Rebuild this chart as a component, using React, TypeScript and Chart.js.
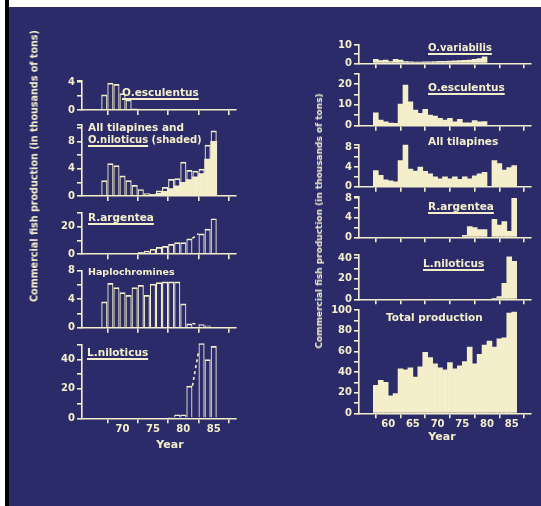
import React, { useEffect, useRef } from "react";
import { Chart, registerables } from "chart.js";

Chart.register(...registerables);

const PAGE_W = 541;
const PAGE_H = 506;
const CREAM = "#f4eecb";
const NAVY = "#2a2b68";
const FONT = "'DejaVu Sans', 'Liberation Sans', sans-serif";

// ---------- DATA (thousands of tons) ----------
// Left column: 1967-1985
const leftYears = [67, 68, 69, 70, 71, 72, 73, 74, 75, 76, 77, 78, 79, 80, 81, 82, 83, 84, 85];
const leftTicks = [70, 75, 80, 85];
const leftOEsculentus = [2.2, 3.9, 3.7, 2.4, 1.5, 0.2, 0, 0, 0, 0, 0, 0, 0, 0, 0, 0, 0, 0, 0];
const leftAllTilapines = [2.3, 4.8, 4.5, 3.0, 2.3, 1.6, 1.0, 0.4, 0.3, 0.8, 1.3, 2.5, 2.6, 5.0, 3.8, 3.7, 4.0, 7.5, 9.6];
const leftONiloticus = [0, 0, 0, 0, 0, 0, 0, 0.05, 0.2, 0.4, 0.7, 1.1, 1.5, 2.0, 2.4, 2.8, 3.3, 5.4, 8.0];
const leftRArgentea = [0, 0, 0, 0.1, 0.4, 1.0, 1.6, 2.5, 3.9, 5.3, 6.0, 7.5, 8.7, 8.7, 11.5, null, 15.0, 18.5, 26.0];
const leftRArgenteaGap = [11.5, 15.0];
const leftHaplochromines = [3.7, 6.3, 5.7, 5.0, 4.6, 5.7, 6.0, 4.6, 6.2, 6.4, 6.5, 6.5, 6.5, 3.4, 0.6, null, 0.5, 0.3, 0.1];
const leftHaploGap = [0.6, 0.5];
const leftLNiloticus = [0, 0, 0, 0, 0, 0, 0, 0, 0, 0, 0, 0.8, 2.5, 2.5, 22.0, null, 51.0, 40.0, 49.0];
const leftLNiloticusGap = [22.0, 45.0];
const leftGapYears = [81.5, 82.5];

// Right column: 1957-1985
const rightYears = [57, 58, 59, 60, 61, 62, 63, 64, 65, 66, 67, 68, 69, 70, 71, 72, 73, 74, 75, 76, 77, 78, 79, 80, 81, 82, 83, 84, 85];
const rightTicks = [60, 65, 70, 75, 80, 85];
const rightOVariabilis = [2.2, 1.5, 1.8, 0.9, 2.2, 1.8, 0.9, 0.8, 0.7, 0.7, 0.8, 0.8, 1.0, 1.1, 1.1, 1.2, 1.3, 1.5, 1.6, 1.8, 2.2, 2.6, 3.6, null, null, null, null, null, null];
const rightOEsculentus = [6.2, 2.7, 1.9, 1.2, 1.1, 10.4, 19.5, 11.5, 7.5, 5.9, 7.8, 5.1, 4.6, 3.5, 2.7, 3.5, 1.9, 3.0, 1.4, 1.4, 2.5, 1.9, 2.0, null, null, null, null, null, null];
const rightAllTilapines = [3.3, 2.3, 1.4, 1.2, 1.0, 5.3, 8.5, 3.6, 3.2, 4.0, 3.1, 2.6, 2.0, 1.6, 2.0, 1.6, 2.0, 1.5, 2.0, 1.6, 2.2, 2.6, 2.9, null, 5.3, 4.7, 3.4, 3.9, 4.3];
const rightRArgentea = [null, null, null, null, null, null, null, null, null, null, null, null, null, null, null, null, null, null, 0.4, 2.2, 2.0, 1.6, 1.6, null, 3.7, 2.5, 3.2, 1.2, 8.0];
const rightLNiloticus = [null, null, null, null, null, null, null, null, null, null, null, null, null, null, null, null, null, null, null, null, null, null, null, null, 0.5, 2.6, 15.5, 41.5, 37.0];
const rightTotal = [27, 32, 30, 17, 19, 43, 42, 44, 35, 45, 59, 54, 48, 44, 42, 49, 43, 46, 50, 64, 48, 57, 66, 70, 64, 72, 73, 97, 98];

// ---------- LAYOUT ----------
type Col = { xMin: number; xMax: number; left: number; right: number; ticks: number[]; labels: number[] };
const LEFT: Col = { xMin: 66.5, xMax: 85.5, left: 82, right: 236, ticks: leftTicks, labels: leftYears };
const RIGHT: Col = { xMin: 57, xMax: 86, left: 359, right: 531, ticks: rightTicks, labels: rightYears.map((y) => y + 0.5) };

const outline = (data: (number | null)[], extra: any = {}) => ({
  type: "bar",
  data,
  backgroundColor: "rgba(0,0,0,0)",
  borderColor: CREAM,
  borderWidth: { top: 1.7, left: 1.1, right: 1.1, bottom: 0 },
  borderSkipped: "start",
  grouped: false,
  barPercentage: 1,
  categoryPercentage: 1,
  inflateAmount: 0,
  ...extra,
});
const filled = (data: (number | null)[]) => ({
  type: "bar",
  data,
  backgroundColor: CREAM,
  borderWidth: 0,
  grouped: false,
  barPercentage: 1,
  categoryPercentage: 1,
});
const dash = (xs: number[], ys: number[]) => ({
  type: "line",
  data: xs.map((x, i) => ({ x, y: ys[i] })),
  borderColor: CREAM,
  borderWidth: 1.6,
  borderDash: [3, 3],
  pointRadius: 0,
  fill: false,
});

type Panel = { col: Col; top: number; bottom: number; max: number; minor: number; label: number; showX?: boolean; datasets: any[] };

const panels: Panel[] = [
  { col: LEFT, top: 80.6, bottom: 110, max: 4.2, minor: 2, label: 4, datasets: [outline(leftOEsculentus)] },
  { col: LEFT, top: 124.3, bottom: 196, max: 10.5, minor: 2, label: 4, datasets: [outline(leftAllTilapines), filled(leftONiloticus)] },
  { col: LEFT, top: 212.9, bottom: 254.3, max: 30, minor: 10, label: 20, datasets: [outline(leftRArgentea), dash(leftGapYears, leftRArgenteaGap)] },
  { col: LEFT, top: 270.9, bottom: 327.7, max: 8, minor: 2, label: 4, datasets: [outline(leftHaplochromines), dash(leftGapYears, leftHaploGap)] },
  { col: LEFT, top: 344.6, bottom: 418.3, max: 50, minor: 10, label: 20, showX: true, datasets: [outline(leftLNiloticus, { clip: false }), dash(leftGapYears, leftLNiloticusGap)] },
  { col: RIGHT, top: 45, bottom: 63.3, max: 10, minor: 5, label: 10, datasets: [filled(rightOVariabilis)] },
  { col: RIGHT, top: 73.6, bottom: 125.7, max: 25, minor: 5, label: 10, datasets: [filled(rightOEsculentus)] },
  { col: RIGHT, top: 144.4, bottom: 186.7, max: 8.6, minor: 2, label: 4, datasets: [filled(rightAllTilapines)] },
  { col: RIGHT, top: 196.8, bottom: 237.3, max: 8.3, minor: 2, label: 4, datasets: [filled(rightRArgentea)] },
  { col: RIGHT, top: 255.2, bottom: 299.3, max: 43, minor: 10, label: 20, datasets: [filled(rightLNiloticus)] },
  { col: RIGHT, top: 310, bottom: 413.3, max: 100, minor: 10, label: 20, showX: true, datasets: [filled(rightTotal)] },
];

const isMult = (v: number, s: number) => Math.abs(v / s - Math.round(v / s)) < 1e-6;

function yTickValues(max: number, minor: number) {
  const vals: number[] = [];
  for (let v = 0; v <= max + 1e-9; v += minor) vals.push(Math.round(v * 1000) / 1000);
  if (!isMult(max, minor)) vals.push(max);
  return vals;
}

const Y_W = 40;
const X_H = 24;
const tickFont = { family: FONT, size: 10, weight: "bold" as const };

function buildConfig(p: Panel): any {
  const yVals = yTickValues(p.max, p.minor);
  return {
    type: "bar",
    data: { labels: p.col.labels, datasets: p.datasets },
    options: {
      animation: false,
      responsive: false,
      maintainAspectRatio: false,
      events: [],
      layout: {
        padding: {
          left: p.col.left - Y_W,
          right: PAGE_W - p.col.right,
          top: p.top,
          bottom: PAGE_H - p.bottom - X_H,
        },
      },
      plugins: { legend: { display: false }, tooltip: { enabled: false }, title: { display: false } },
      scales: {
        x: {
          type: "linear",
          min: p.col.xMin,
          max: p.col.xMax,
          afterBuildTicks: (s: any) => {
            s.ticks = p.col.ticks.map((v) => ({ value: v }));
          },
          afterFit: (s: any) => {
            s.height = X_H;
          },
          grid: { drawOnChartArea: false, drawTicks: true, tickLength: 5, color: CREAM, lineWidth: 1.6 },
          border: { display: true, color: CREAM, width: 1.6 },
          ticks: {
            display: !!p.showX,
            color: CREAM,
            font: tickFont,
            padding: 0,
            autoSkip: false,
            maxRotation: 0,
            callback: (v: any) => String(v),
          },
        },
        y: {
          type: "linear",
          min: 0,
          max: p.max,
          afterBuildTicks: (s: any) => {
            s.ticks = yVals.map((v) => ({ value: v }));
          },
          afterFit: (s: any) => {
            s.width = Y_W;
          },
          grid: { drawOnChartArea: false, drawTicks: true, tickLength: 5, color: CREAM, lineWidth: 1.6 },
          border: { display: true, color: CREAM, width: 1.6 },
          ticks: {
            color: CREAM,
            font: tickFont,
            padding: 2,
            autoSkip: false,
            callback: (v: any) => (isMult(Number(v), p.label) ? String(v) : ""),
          },
        },
      },
    },
  };
}

function PanelChart({ panel }: { panel: Panel }) {
  const ref = useRef<HTMLCanvasElement | null>(null);
  useEffect(() => {
    if (!ref.current) return;
    const chart = new Chart(ref.current, buildConfig(panel));
    return () => chart.destroy();
  }, [panel]);
  return (
    <canvas
      ref={ref}
      width={PAGE_W}
      height={PAGE_H}
      style={{ position: "absolute", left: 0, top: 0, width: PAGE_W, height: PAGE_H }}
    />
  );
}

type TitlePart = { t: string; u?: boolean };
type TitleSpec = { parts: TitlePart[]; x: number; y: number; fs: number };
const titles: TitleSpec[] = [
  { parts: [{ t: "O.esculentus", u: true }], x: 122, y: 92, fs: 10.5 },
  { parts: [{ t: "All tilapines and" }], x: 88, y: 127, fs: 10.5 },
  { parts: [{ t: "O.niloticus", u: true }, { t: " (shaded)" }], x: 88, y: 140, fs: 10 },
  { parts: [{ t: "R.argentea", u: true }], x: 88, y: 217, fs: 10.5 },
  { parts: [{ t: "Haplochromines" }], x: 88, y: 272, fs: 9.5 },
  { parts: [{ t: "L.niloticus", u: true }], x: 87, y: 352, fs: 10.5 },
  { parts: [{ t: "O.variabilis", u: true }], x: 428, y: 48, fs: 10 },
  { parts: [{ t: "O.esculentus", u: true }], x: 428, y: 87, fs: 10.5 },
  { parts: [{ t: "All tilapines" }], x: 428, y: 141, fs: 10.5 },
  { parts: [{ t: "R.argentea", u: true }], x: 428, y: 206, fs: 10.5 },
  { parts: [{ t: "L.niloticus", u: true }], x: 423, y: 263, fs: 10.5 },
  { parts: [{ t: "Total production" }], x: 386, y: 317, fs: 10.5 },
];

const yTitle = "Commercial fish production (in thousands of tons)";
const xTitle = "Year";

export default function App() {
  const textBase: React.CSSProperties = {
    position: "absolute",
    fontFamily: FONT,
    fontWeight: "bold",
    color: CREAM,
    whiteSpace: "nowrap",
  };
  const underline: React.CSSProperties = {
    textDecoration: "underline",
    textDecorationThickness: "1.5px",
    textUnderlineOffset: "2px",
    textDecorationSkipInk: "none",
    whiteSpace: "pre",
  };
  return (
    <div style={{ position: "fixed", left: 0, top: 0, width: PAGE_W, height: PAGE_H, background: "#ffffff", overflow: "hidden" }}>
      <div style={{ position: "absolute", left: 8, top: 7, right: 0, bottom: 0, background: NAVY }} />
      <div style={{ position: "absolute", left: 5, top: 0, width: 3.5, height: PAGE_H, background: "#000000" }} />
      {panels.map((p, i) => (
        <PanelChart key={i} panel={p} />
      ))}
      {titles.map((t, i) => (
        <div key={i} style={{ ...textBase, left: t.x, top: t.y - t.fs * 0.6, fontSize: t.fs, lineHeight: `${t.fs * 1.2}px` }}>
          {t.parts.map((pt, j) => (
            <span key={j} style={pt.u ? underline : { whiteSpace: "pre" }}>
              {pt.t}
            </span>
          ))}
        </div>
      ))}
      <div style={{ ...textBase, left: 34, top: 166, fontSize: 9.6, transform: "translate(-50%, -50%) rotate(-90deg)" }}>{yTitle}</div>
      <div style={{ ...textBase, left: 319, top: 221, fontSize: 9, transform: "translate(-50%, -50%) rotate(-90deg)" }}>{yTitle}</div>
      <div style={{ ...textBase, left: 170, top: 444, fontSize: 11, transform: "translate(-50%, -50%)" }}>{xTitle}</div>
      <div style={{ ...textBase, left: 442, top: 436, fontSize: 11, transform: "translate(-50%, -50%)" }}>{xTitle}</div>
    </div>
  );
}
